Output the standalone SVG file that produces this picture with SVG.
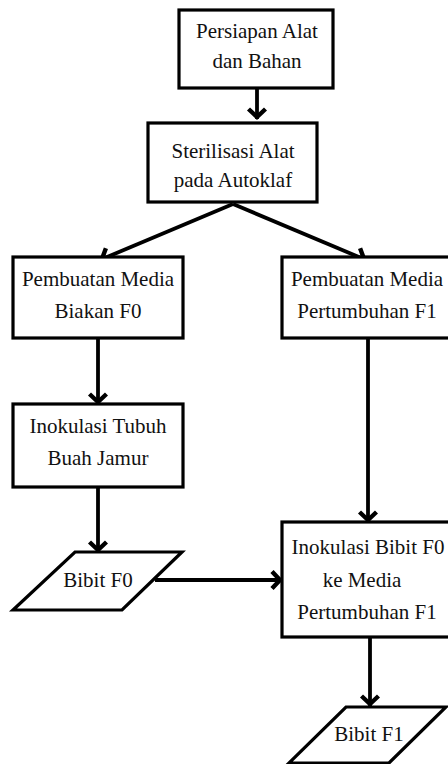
<svg xmlns="http://www.w3.org/2000/svg" width="448" height="764" viewBox="0 0 448 764">
<style>
.box{fill:#fff;stroke:#000;stroke-width:3.2}
.t{font-family:"Liberation Serif","Times New Roman",serif;font-size:21px;fill:#111;text-anchor:middle}
.c{fill:none;stroke:#000;stroke-width:3.8}
</style>
<defs>
<marker id="ah" markerUnits="userSpaceOnUse" markerWidth="30" markerHeight="30" viewBox="-15 -15 18 30" refX="0" refY="0" orient="auto">
<path d="M-10,-8.5 L-2,0 L-10,8.5" fill="none" stroke="#000" stroke-width="4.4"/>
</marker>
</defs>
<rect width="448" height="764" fill="#fff"/>
<g id="connectors">
<line class="c" x1="257" y1="88" x2="257" y2="119" marker-end="url(#ah)"/>
<line class="c" x1="233" y1="204" x2="100" y2="260" marker-end="url(#ah)"/>
<line class="c" x1="233" y1="204" x2="366" y2="260" marker-end="url(#ah)"/>
<line class="c" x1="98" y1="338" x2="98" y2="404" marker-end="url(#ah)"/>
<line class="c" x1="98" y1="487" x2="98" y2="552" marker-end="url(#ah)"/>
<line class="c" x1="155" y1="580" x2="282" y2="580" marker-end="url(#ah)"/>
<line class="c" x1="368" y1="338" x2="368" y2="522" marker-end="url(#ah)"/>
<line class="c" x1="370" y1="637" x2="370" y2="706" marker-end="url(#ah)"/>
</g>
<g id="n1"><rect class="box" x="179" y="10" width="154" height="78"/>
<text class="t" x="257" y="38">Persiapan Alat</text><text class="t" x="257" y="68">dan Bahan</text></g>
<g id="n2"><rect class="box" x="148" y="123" width="169" height="79"/>
<text class="t" x="233" y="158">Sterilisasi Alat</text><text class="t" x="233" y="187">pada Autoklaf</text></g>
<g id="n3"><rect class="box" x="13" y="257" width="170" height="81"/>
<text class="t" x="98" y="286">Pembuatan Media</text><text class="t" x="98" y="318">Biakan F0</text></g>
<g id="n4"><rect class="box" x="282" y="257" width="172" height="81"/>
<text class="t" x="367" y="286">Pembuatan Media</text><text class="t" x="367" y="318">Pertumbuhan F1</text></g>
<g id="n5"><rect class="box" x="13" y="404" width="170" height="83"/>
<text class="t" x="98" y="433">Inokulasi Tubuh</text><text class="t" x="98" y="465">Buah Jamur</text></g>
<g id="n6"><polygon class="box" points="75,552 182,552 122,610 13,610"/>
<text class="t" x="98" y="587">Bibit F0</text></g>
<g id="n7"><rect class="box" x="282" y="522" width="172" height="115"/>
<text class="t" x="368" y="554">Inokulasi Bibit F0</text><text class="t" x="362" y="587">ke Media</text><text class="t" x="367" y="619">Pertumbuhan F1</text></g>
<g id="n8"><polygon class="box" points="346,707 446,707 389,763 289,763"/>
<text class="t" x="369" y="741">Bibit F1</text></g>
</svg>
